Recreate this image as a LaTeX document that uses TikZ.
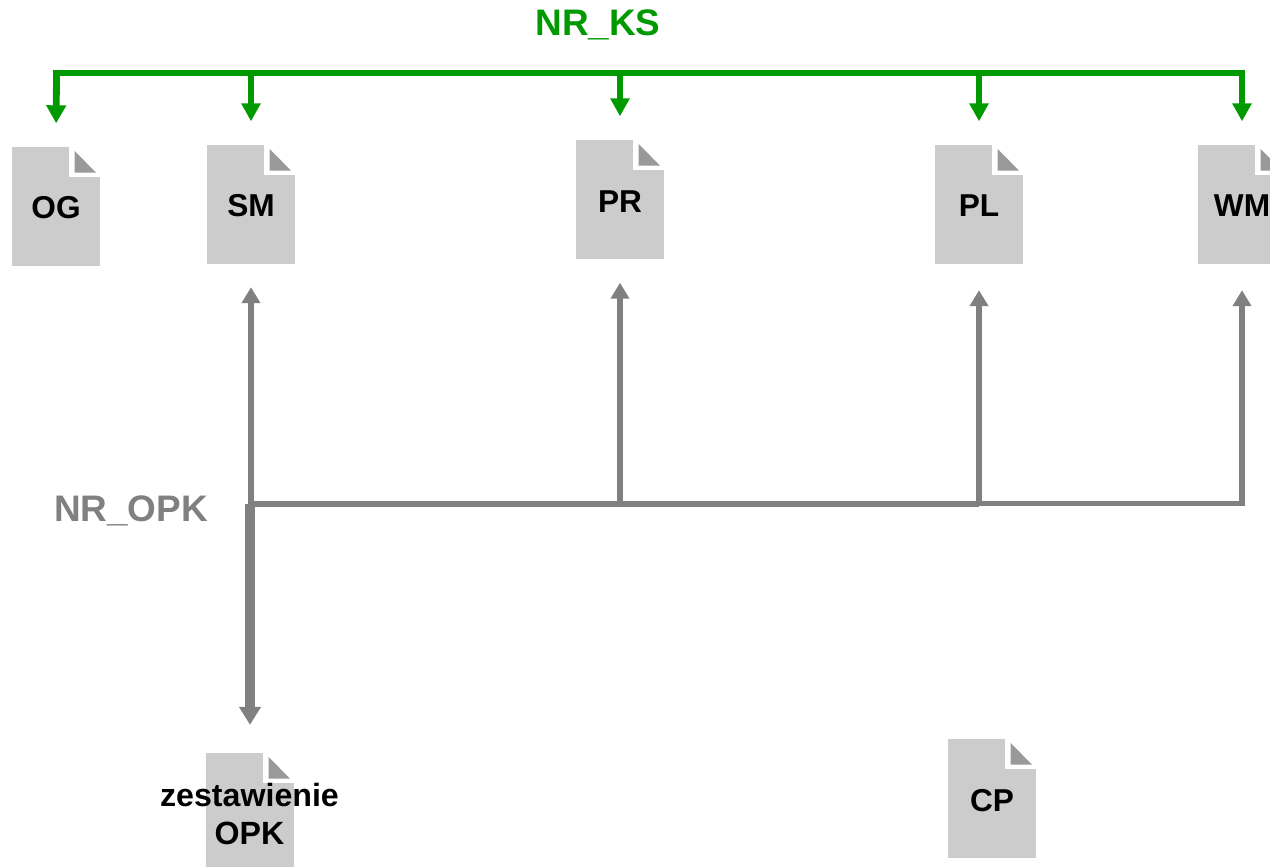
\documentclass[tikz,border=0pt]{standalone}
\usepackage{fontspec}
\setmainfont{Liberation Sans}
\usetikzlibrary{arrows.meta}
\definecolor{ksgreen}{HTML}{009900}
\definecolor{opkgray}{HTML}{808080}
\definecolor{docgray}{HTML}{CCCCCC}
\definecolor{foldgray}{HTML}{999999}
\begin{document}
\begin{tikzpicture}[
    docfile/.style={rectangle, fill=docgray, minimum width=.88cm, minimum height=1.19cm, inner sep=0pt,
      text height=6.9pt, text depth=0pt, font=\fontsize{9}{10.8}\selectfont\bfseries,
      path picture={
        \fill[white] ([shift={(.13,.595)}]path picture bounding box.center) rectangle ([shift={(.44,.295)}]path picture bounding box.center);
        \fill[foldgray] ([shift={(.187,.555)}]path picture bounding box.center) -- ([shift={(.187,.338)}]path picture bounding box.center) -- ([shift={(.40,.338)}]path picture bounding box.center) -- cycle;
      }},
    doclabel/.style={align=center, inner sep=0pt, font=\fontsize{9.15}{10.8}\selectfont\bfseries},
    buslabel/.style={inner sep=0pt, font=\fontsize{10.5}{12}\selectfont\bfseries},
    ksline/.style={ksgreen, line width=.6mm, shorten >=.23cm, -{Triangle[length=.18cm,width=.185cm]}},
    opkline/.style={opkgray, line width=.55mm, shorten >=.23cm, -{Triangle[length=.16cm,width=.18cm]}}]
    \useasboundingbox (0,0) rectangle (12.7,-8.67);

    \begin{scope}[every node/.style={docfile}]
      \node (og) at (.56,-2.065) {OG};
      \node (sm) at (2.51,-2.045) {SM};
      \node [text height=7.4pt] (pr) at (6.2,-1.995) {PR};
      \node (pl) at (9.79,-2.045) {PL};
      \node (wm) at (12.42,-2.045) {WM};
      \node (opk) at (2.5,-8.125) {};
      \node [text height=7.4pt] (cp) at (9.92,-7.985) {CP};
    \end{scope}
    \node [doclabel] (opktext) at (2.495,-8.14) {zestawienie\\OPK};

    \node [buslabel, text=ksgreen] (nrks) at (5.98,-.25) {NR\_KS};
    \node [buslabel, text=opkgray] (nropk) at (1.31,-5.11) {NR\_OPK};

    \coordinate (ksog) at (.565,-.73);
    \coordinate (kssm) at (2.51,-.73);
    \coordinate (kspr) at (6.2,-.73);
    \coordinate (kspl) at (9.79,-.73);
    \coordinate (kswm) at (12.42,-.73);
    \coordinate (opksm) at (2.51,-5.04);
    \coordinate (opkpr) at (6.2,-5.04);
    \coordinate (opkpl) at (9.79,-5.04);
    \coordinate (opkwm) at (12.42,-5.04);
    \coordinate (opkdown) at (2.5,-5.04);

    \draw [ksgreen, line width=.65mm, line cap=rect] (ksog) -- (kspl);
    \draw [ksgreen, line width=.58mm, line cap=rect] (kspl) -- (kswm);
    \begin{scope}[ksline]
      \draw [-{Triangle[length=.18cm,width=.19cm]}, line width=.68mm] (ksog) -- (og.north);
      \draw (kssm) -- (sm.north);
      \draw (kspr) -- (pr.north);
      \draw (kspl) -- (pl.north);
      \draw (kswm) -- (wm.north);
    \end{scope}

    \draw [opkgray, line width=.62mm] (opkdown) -- (opkpl);
    \draw [opkgray, line width=.5mm, line cap=rect] (opkpl) -- (opkwm);
    \begin{scope}[opkline]
      \draw [shorten >=.225cm] (opksm) -- (sm.south);
      \draw (opkpr) -- (pr.south);
      \draw [shorten >=.255cm] (opkpl) -- (pl.south);
      \draw [shorten >=.255cm] (opkwm) -- (wm.south);
      \draw [line width=.95mm, shorten >=.275cm, -{Triangle[length=.18cm,width=.21cm]}] (opkdown) -- (opk.north);
    \end{scope}
\end{tikzpicture}
\end{document}
